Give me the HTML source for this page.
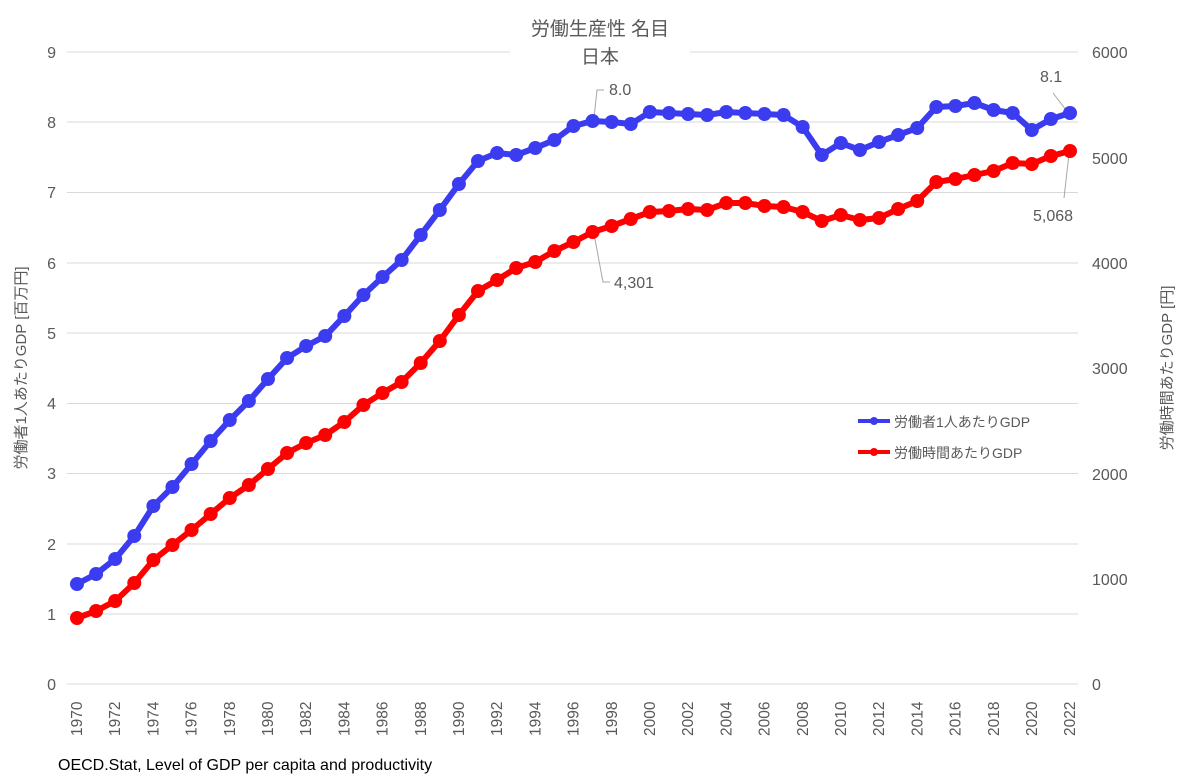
<!DOCTYPE html>
<html><head><meta charset="utf-8"><style>
body{margin:0;background:#fff}
svg{display:block;font-family:"Liberation Sans","Noto Sans CJK JP",sans-serif}
</style></head><body>
<svg id="s" width="1200" height="783" viewBox="0 0 1200 783">
<g stroke="#d9d9d9" stroke-width="1">
<line x1="67" x2="1078" y1="52" y2="52"/><line x1="67" x2="1078" y1="122" y2="122"/><line x1="67" x2="1078" y1="192.5" y2="192.5"/><line x1="67" x2="1078" y1="263" y2="263"/><line x1="67" x2="1078" y1="333" y2="333"/><line x1="67" x2="1078" y1="403.5" y2="403.5"/><line x1="67" x2="1078" y1="473.5" y2="473.5"/><line x1="67" x2="1078" y1="544" y2="544"/><line x1="67" x2="1078" y1="614" y2="614"/><line x1="67" x2="1078" y1="684" y2="684"/>
</g>
<rect x="510" y="20" width="180" height="55" fill="#fff"/>
<g fill="#595959" font-size="16" text-anchor="end">
<text x="56" y="58">9</text><text x="56" y="128">8</text><text x="56" y="198">7</text><text x="56" y="269">6</text><text x="56" y="339">5</text><text x="56" y="409">4</text><text x="56" y="479">3</text><text x="56" y="550">2</text><text x="56" y="620">1</text><text x="56" y="690">0</text>
</g>
<g fill="#595959" font-size="16" text-anchor="start">
<text x="1092" y="58">6000</text><text x="1092" y="164">5000</text><text x="1092" y="269">4000</text><text x="1092" y="374">3000</text><text x="1092" y="480">2000</text><text x="1092" y="585">1000</text><text x="1092" y="690">0</text>
</g>
<g fill="#595959" font-size="15.5" text-anchor="start">
<text transform="translate(82,736) rotate(-90)">1970</text>
<text transform="translate(120.2,736) rotate(-90)">1972</text>
<text transform="translate(158.4,736) rotate(-90)">1974</text>
<text transform="translate(196.6,736) rotate(-90)">1976</text>
<text transform="translate(234.8,736) rotate(-90)">1978</text>
<text transform="translate(273,736) rotate(-90)">1980</text>
<text transform="translate(311.2,736) rotate(-90)">1982</text>
<text transform="translate(349.4,736) rotate(-90)">1984</text>
<text transform="translate(387.6,736) rotate(-90)">1986</text>
<text transform="translate(425.8,736) rotate(-90)">1988</text>
<text transform="translate(464,736) rotate(-90)">1990</text>
<text transform="translate(502.2,736) rotate(-90)">1992</text>
<text transform="translate(540.4,736) rotate(-90)">1994</text>
<text transform="translate(578.6,736) rotate(-90)">1996</text>
<text transform="translate(616.8,736) rotate(-90)">1998</text>
<text transform="translate(655,736) rotate(-90)">2000</text>
<text transform="translate(693.2,736) rotate(-90)">2002</text>
<text transform="translate(731.4,736) rotate(-90)">2004</text>
<text transform="translate(769.6,736) rotate(-90)">2006</text>
<text transform="translate(807.8,736) rotate(-90)">2008</text>
<text transform="translate(846,736) rotate(-90)">2010</text>
<text transform="translate(884.2,736) rotate(-90)">2012</text>
<text transform="translate(922.4,736) rotate(-90)">2014</text>
<text transform="translate(960.6,736) rotate(-90)">2016</text>
<text transform="translate(998.8,736) rotate(-90)">2018</text>
<text transform="translate(1037,736) rotate(-90)">2020</text>
<text transform="translate(1075.2,736) rotate(-90)">2022</text>
</g>
<text x="600" y="35" text-anchor="middle" font-size="19" fill="#595959">労働生産性 名目</text>
<text x="600" y="63" text-anchor="middle" font-size="19" fill="#595959">日本</text>
<text transform="translate(26,368) rotate(-90)" text-anchor="middle" font-size="15" fill="#595959">労働者1人あたりGDP [百万円]</text>
<text transform="translate(1172,368) rotate(-90)" text-anchor="middle" font-size="15" fill="#595959">労働時間あたりGDP [円]</text>
<text x="58" y="770" font-size="16" fill="#000">OECD.Stat, Level of GDP per capita and productivity</text>
<g stroke="#a6a6a6" stroke-width="1" fill="none">
<polyline points="594,118 597,90 604,90"/>
<polyline points="1066,110 1053,93"/>
<polyline points="1069,154 1064,198"/>
<polyline points="594,234 603,282 610,282"/>
</g>
<g fill="#595959" font-size="16">
<text x="609" y="95">8.0</text>
<text x="1040" y="82">8.1</text>
<text x="1033" y="221">5,068</text>
<text x="614" y="288">4,301</text>
</g>
<g id="ser"></g>
<line x1="858" x2="890" y1="421" y2="421" stroke="#3b3bf0" stroke-width="4"/><circle cx="874" cy="421" r="4" fill="#3b3bf0"/>
<text x="894" y="427" font-size="14" fill="#595959">労働者1人あたりGDP</text>
<line x1="858" x2="890" y1="452" y2="452" stroke="#f00" stroke-width="4"/><circle cx="874" cy="452" r="4" fill="#f00"/>
<text x="894" y="458" font-size="14" fill="#595959">労働時間あたりGDP</text>
</svg>
<script>
var b=[584,574,559,536,506,487,464,441,420,401,379,358,346,336,316,295,277,260,235,210,184,161,153,155,148,140,126,121,122,124,112,113,114,115,112,113,114,115,127,155,143,150,142,135,128,107,106,103,110,113,130,119,113];
var r=[618,611,601,583,560,545,530,514,498,485,469,453,443,435,422,405,393,382,363,341,315,291,280,268,262,251,242,232,226,219,212,211,209,210,203,203,206,207,212,221,215,220,218,209,201,182,179,175,171,163,164,156,151];
var ns="http://www.w3.org/2000/svg",g=document.getElementById("ser");
function X(i){return 77+i*(993/52);}
function draw(d,c){var p=d.map(function(y,i){return X(i).toFixed(1)+","+y}).join(" ");
var l=document.createElementNS(ns,"polyline");l.setAttribute("points",p);l.setAttribute("fill","none");l.setAttribute("stroke",c);l.setAttribute("stroke-width","6");l.setAttribute("stroke-linejoin","round");g.appendChild(l);
d.forEach(function(y,i){var e=document.createElementNS(ns,"circle");e.setAttribute("cx",X(i));e.setAttribute("cy",y);e.setAttribute("r","7");e.setAttribute("fill",c);g.appendChild(e);});}
draw(r,"#f00");draw(b,"#3b3bf0");
</script>
</body></html>
